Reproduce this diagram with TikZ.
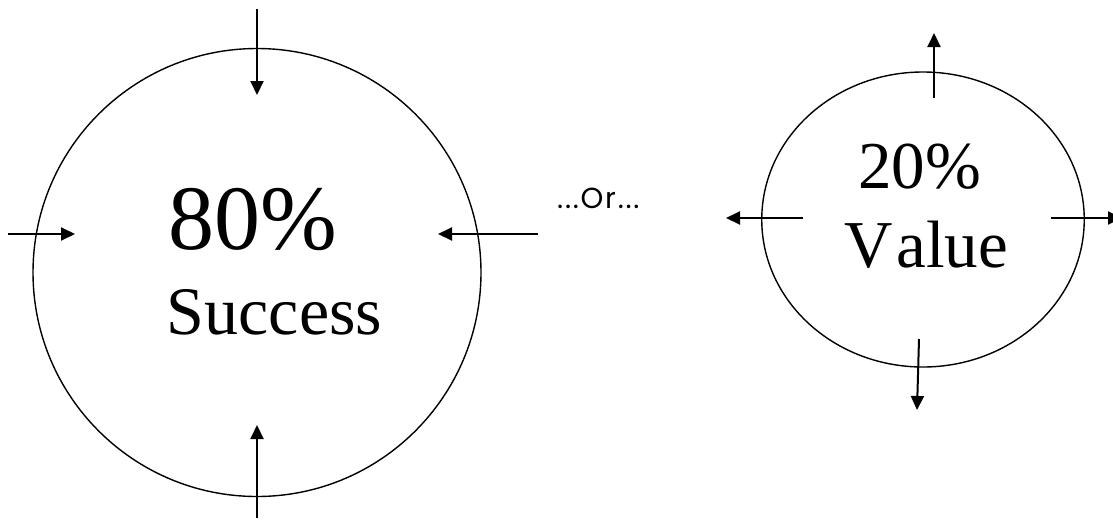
\documentclass[tikz,border=0pt]{standalone}
\usepackage{fontspec}
\setmainfont{Liberation Serif}
\newfontfamily\orfont[LetterSpace=6]{Poppins}
\usetikzlibrary{arrows.meta,shapes.geometric}
\begin{document}
\begin{tikzpicture}[x=1pt,y=-1pt,
  ring/.style={draw,line width=1.4pt,inner sep=0pt},
  arr/.style={line width=2pt,-{Triangle[length=14pt,width=13pt]}},
  lbl/.style={inner sep=0pt,anchor=base}]
\useasboundingbox (0,0) rectangle (1113,520);
\clip (0,0) rectangle (1113,520);
% shapes
\node[ring,circle,minimum size=448pt] (big) at (257,272.5) {};
\node[ring,ellipse,minimum width=322.5pt,minimum height=295pt] (small) at (923,219.5) {};
% texts
\node[lbl] (p80) at (253,249) {\fontsize{92}{92}\selectfont 80\%};
\node[lbl] (succ) at (274.5,334) {\fontsize{68}{68}\selectfont Success};
\node[lbl] (p20) at (919.5,188) {\fontsize{67}{67}\selectfont 20\%};
\node[lbl] (val) at (926,267) {\fontsize{67}{67}\selectfont V\kern4pt alue};
\node[inner sep=0pt,anchor=base west] (or) at (557,208) {\orfont\fontsize{29}{29}\selectfont ...Or...};
% arrows of big circle
\coordinate (bt0) at (257,9);    \coordinate (bt1) at (257,95);
\coordinate (bl0) at (8,234);    \coordinate (bl1) at (75,234);
\coordinate (br0) at (538,234);  \coordinate (br1) at (438,234);
\coordinate (bb0) at (257,518);  \coordinate (bb1) at (257,425);
\draw[arr] (bt0) -- (bt1);
\draw[arr] (bl0) -- (bl1);
\draw[arr] (br0) -- (br1);
\draw[arr] (bb0) -- (bb1);
% arrows of small ellipse
\coordinate (st0) at (934,98);   \coordinate (st1) at (934,33);
\coordinate (sl0) at (803,218);  \coordinate (sl1) at (726,218);
\coordinate (sr0) at (1051,218); \coordinate (sr1) at (1122,218);
\coordinate (sb0) at (919,339);  \coordinate (sb1) at (917,410);
\draw[arr] (st0) -- (st1);
\draw[arr] (sl0) -- (sl1);
\draw[arr] (sr0) -- (sr1);
\draw[arr] (sb0) -- (sb1);
\end{tikzpicture}
\end{document}
